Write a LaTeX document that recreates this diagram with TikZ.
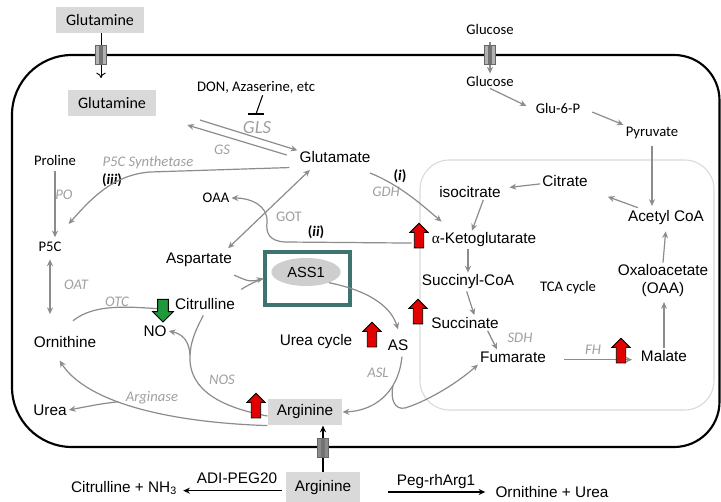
\documentclass[tikz,border=0pt]{standalone}
\usepackage{fontspec}
\setmainfont{Liberation Sans}
\newfontfamily\calfont{Carlito}
\newfontfamily\serfont{Liberation Serif}
\usetikzlibrary{arrows.meta,shapes.geometric,shapes.arrows}

\definecolor{arrowgray}{HTML}{8C8C8C}
\definecolor{enzgray}{HTML}{A0A0A0}
\definecolor{boxgray}{HTML}{D9D9D9}
\definecolor{assteal}{HTML}{3E7370}
\definecolor{tcaline}{HTML}{DADADA}
\definecolor{upred}{HTML}{E30000}
\definecolor{downgreen}{HTML}{1E9A3C}

\tikzset{
  met/.style={font=\fontsize{11.5}{13.5}\selectfont, inner sep=1.5pt},
  sml/.style={font=\calfont\fontsize{11}{13}\selectfont, inner sep=1.5pt},
  enz/.style={font=\calfont\itshape\fontsize{11}{13}\selectfont, text=enzgray, inner sep=1pt},
  tag/.style={font=\calfont\bfseries\fontsize{11}{13}\selectfont, inner sep=1pt},
  metbox/.style={fill=boxgray, inner sep=0pt},
  flow/.style={draw=arrowgray, line width=0.9pt, ->},
  flowline/.style={draw=arrowgray, line width=0.9pt},
  import/.style={draw=black, line width=0.8pt, ->},
  membrane/.style={draw=black, line width=1.6pt},
  channel/.style={draw=black!60, fill=black!30, line width=0.5pt, minimum width=8pt,
    minimum height=14pt, inner sep=0pt,
    path picture={\fill[black!55] ([xshift=-1.6pt]path picture bounding box.north)
      rectangle ([xshift=1.6pt]path picture bounding box.south);}},
  blockarrow/.style={single arrow, draw=black, line width=0.7pt, inner sep=3.2pt,
    single arrow head extend=3.2pt, minimum height=18.5pt},
  upreg/.style={blockarrow, fill=upred, rotate=90},
  downreg/.style={blockarrow, fill=downgreen, rotate=-90, inner sep=3.7pt,
    single arrow head extend=3.7pt, minimum height=17pt},
}

\begin{document}
\begin{tikzpicture}[x=0.75pt, y=-0.75pt, >={Stealth[length=5pt,width=4.5pt]}]
\useasboundingbox[fill=white] (0,0) rectangle (721,502);

% cell and mitochondrion
\draw[membrane] (400,55) [rounded corners=34pt] -- (719.5,55) -- (719.5,447) -- (300,447)
  [rounded corners=45pt] -- (12,447) -- (12,55) -- cycle;
\draw[tcaline, line width=0.8pt, rounded corners=22pt] (420,160) rectangle (714,410);

% metabolites
\node (glnout) at (100,20) [metbox, minimum width=66.5pt, minimum height=19.5pt, font=\calfont\fontsize{12}{14}\selectfont] {Glutamine};
\node (glnin) at (112,103) [metbox, minimum width=66.5pt, minimum height=20pt, font=\calfont\fontsize{12}{14}\selectfont] {Glutamine};
\node (glcout) at (490,29) [sml] {Glucose};
\node (glcin) at (490,81) [sml] {Glucose};
\node (don) at (256,87) [sml] {DON, Azaserine, etc};
\node (gls) at (257,128) [enz, font=\calfont\itshape\fontsize{14}{16}\selectfont] {GLS};
\node (gs) at (222,150) [enz] {GS};
\node (glu) at (335,157) [met] {Glutamate};
\node (pro) at (55,160) [sml] {Proline};
\node (p5cs) at (148,163) [enz] {P5C Synthetase};
\node (iii) at (112,180) [tag] {(\textit{iii})};
\node (po) at (64,195) [enz] {PO};
\node (p5c) at (50,247) [sml] {P5C};
\node (oat) at (76,285) [enz] {OAT};
\node (otc) at (117,302) [enz] {OTC};
\node (orn) at (65,342) [met] {Ornithine};
\node (urea) at (50,410) [met] {Urea};
\node (argase) at (152,398) [enz] {Arginase};
\node (no) at (155,331) [met] {NO};
\node (cit) at (205,304) [met] {Citrulline};
\node (oaa) at (216,198) [sml] {OAA};
\node (got) at (289,217) [sml, text=enzgray] {GOT};
\node (ii) at (316,232) [tag] {(\textit{ii})};
\node (asp) at (199,260) [met] {Aspartate};
\node (i) at (400,176) [tag] {(\textit{i})};
\node (gdh) at (386,192) [enz] {GDH};
\node (assbox) at (307.5,278.5) [draw=assteal, line width=2.3pt, minimum width=63.75pt, minimum height=39.75pt] {};
\node (ass) at (306,272) [ellipse, fill=boxgray!95!black, minimum width=52pt, minimum height=21pt, inner sep=0pt, font=\fontsize{11}{13}\selectfont] {ASS1};
\node (ucyc) at (316,342) [met] {Urea cycle};
\node (as) at (398,345) [met] {AS};
\node (asl) at (378,373) [enz] {ASL};
\node (nos) at (222,380) [enz] {NOS};
\node (argin) at (305,412) [metbox, met, minimum width=56pt, minimum height=20pt] {Arginine};
\node (argout) at (323,488) [metbox, met, minimum width=55pt, minimum height=24pt] {Arginine};
\node (citnh3) at (124,488) [met] {Citrulline + NH\textsubscript{3}};
\node (adi) at (237,478) [met] {ADI-PEG20};
\node (peg) at (436,482) [met] {Peg-rhArg1};
\node (ornurea) at (552,492) [met] {Ornithine + Urea};

% glycolysis and TCA cycle
\node (glc6p) at (558,108) [sml] {Glu-6-P};
\node (pyr) at (652,133) [sml] {Pyruvate};
\node (acoa) at (666,218) [met] {Acetyl CoA};
\node (citr) at (565,181) [met] {Citrate};
\node (isocit) at (470,192) [met] {isocitrate};
\node (akg) at (484,240) [met] {{\serfont α}-Ketoglutarate};
\node (succoa) at (468,282) [met] {Succinyl-CoA};
\node (tca) at (568,288) [sml] {TCA cycle};
\node (oxa) at (663,281) [met, align=center] {Oxaloacetate\\(OAA)};
\node (succ) at (465,323) [met] {Succinate};
\node (sdh) at (520,338) [enz] {SDH};
\node (fum) at (513,357) [met] {Fumarate};
\node (fh) at (593,350) [enz] {FH};
\node (mal) at (664,356) [met] {Malate};

% transport
\coordinate (glnend) at (101,78);
\draw[draw=black, line width=0.7pt, -{To[length=4pt,width=7pt]}] (glnout.south -| glnend) -- (glnend);
\node (chgln) at (101,55) [channel] {};
\draw[flow, shorten <=4pt] (glcout) -- (glcin);
\node (chglc) at (490,55) [channel] {};
\draw[import] (argout.north) -- (argout.north |- argin.south);
\node (charg) at (323,448) [channel, fill=black!45] {};
\draw[import, shorten <=3pt, shorten >=3pt] ([yshift=-2pt]argout.west) -- ([yshift=-2pt]argout.west -| citnh3.east);
\draw[import, shorten <=21pt, shorten >=6pt] (argout.east |- ornurea.west) -- (ornurea.west);

% glutamine / glutamate
\draw[flow] ([shift={(32.6pt,-12.8pt)}]glnin.east) -- ([yshift=5pt]glu.west);
\draw[flow] ([shift={(-8pt,1.5pt)}]glu.west) -- ([shift={(23pt,-16.5pt)}]glnin.east);
\coordinate (inh) at (256,114);
\draw[line width=0.8pt] ([xshift=5pt]don.south) -- (inh);
\draw[line width=0.8pt] ([xshift=-6pt]inh) -- ([xshift=6pt]inh);
\draw[flow] ([shift={(-6pt,-2pt)}]glu.south west) -- (150,172)
  .. controls (112,175) and (90,200) .. ([shift={(14pt,12pt)}]p5c.north);
\draw[flow, <->] ([shift={(-4.5pt,2pt)}]asp.north east) -- ([shift={(9.4pt,-3.8pt)}]glu.south west);
\draw[flow] ([shift={(-2pt,-12pt)}]glu.east) .. controls (400,185) and (422,205) .. ([shift={(9pt,6.75pt)}]akg.north west);
\draw[flow] ([shift={(-13.5pt,-2.3pt)}]akg.west) -- (285,242)
  .. controls (268,241) and (266,232) .. (267,222)
  .. controls (268,205) and (250,198) .. (oaa.east);

% proline / ornithine
\draw[flow, shorten <=3pt, shorten >=2pt] (pro) -- (pro |- p5c.north);
\draw[flow, <->, shorten <=4pt, shorten >=15pt] (p5c.south) -- (p5c.south |- orn.north);
\draw[flowline] ([shift={(6pt,10pt)}]orn.north) .. controls (95,303) and (130,307) .. (163,309);

% urea cycle
\draw[flow] ([yshift=-4.5pt]asp.south east) .. controls (250,282) .. (assbox.west);
\draw[flowline] ([shift={(3pt,5pt)}]cit.north east) .. controls (252,283) .. (assbox.west);
\draw[flow] (ass.-25) .. controls (375,292) and (392,310) .. ([yshift=6pt]as.north);
\draw[flow] ([shift={(3pt,-3pt)}]as.south) .. controls (398,395) and (372,411) .. coordinate[pos=0.3] (aslmid) (argin.east);
\draw[flow] (aslmid) .. controls (390,400) and (395,410) .. (405,408)
  .. controls (425,402) and (455,385) .. (fum.south west);
\draw[flowline, shorten >=3pt] ([yshift=-3pt]argin.west) .. controls (225,408) and (188,392) .. (190,355) coordinate (nosmid)
  .. controls (191,338) and (198,326) .. (cit.south);
\draw[flow] (nosmid) .. controls (189,340) and (182,334) .. (no.east);
\draw[flow] (argin.south west) .. controls (160,422) and (85,400) .. coordinate[pos=0.57] (argmid) ([shift={(-4pt,-8pt)}]orn.south);
\draw[flow] (argmid) .. controls (100,404) .. (urea.east);

% glycolysis / TCA
\draw[flow, shorten >=6pt] (glcin.south) -- ([yshift=-1pt]glc6p.west);
\draw[flow, shorten <=8pt] (glc6p.east) -- (pyr.north west);
\draw[flow, shorten <=4pt, shorten >=2pt] (pyr.south) -- (pyr.south |- acoa.north);
\draw[flow, shorten >=3pt] (oxa.north) -- (acoa.south);
\draw[flow, shorten >=2pt] (mal.north) -- (mal.north |- oxa.south);
\draw[flow, shorten <=2pt, shorten >=17pt] (acoa) -- (citr);
\draw[flow, shorten >=5pt] (citr) -- (isocit);
\draw[flow] ([xshift=10pt]isocit.south) -- ([xshift=-9pt]akg.north);
\draw[flow] (succoa.north |- akg.south) -- (succoa.north);
\draw[flow] ([xshift=-1pt]succoa.south) -- ([xshift=7pt]succ.north);
\draw[flow] ([xshift=17pt]succ.south) -- ([xshift=-12pt]fum.north);
\draw[flow, shorten <=12pt, shorten >=5pt] ([yshift=-2pt]fum.east) -- ([yshift=-2pt]fum.east -| mal.west);

% regulation
\node (downno) at (163,308) [downreg] {};
\node (upakg) at (419,238) [upreg] {};
\node (upsucc) at (418,314) [upreg] {};
\node (upas) at (372,337) [upreg] {};
\node (uparg) at (256,408) [upreg] {};
\node (upmal) at (621,353) [upreg] {};
\end{tikzpicture}
\end{document}
